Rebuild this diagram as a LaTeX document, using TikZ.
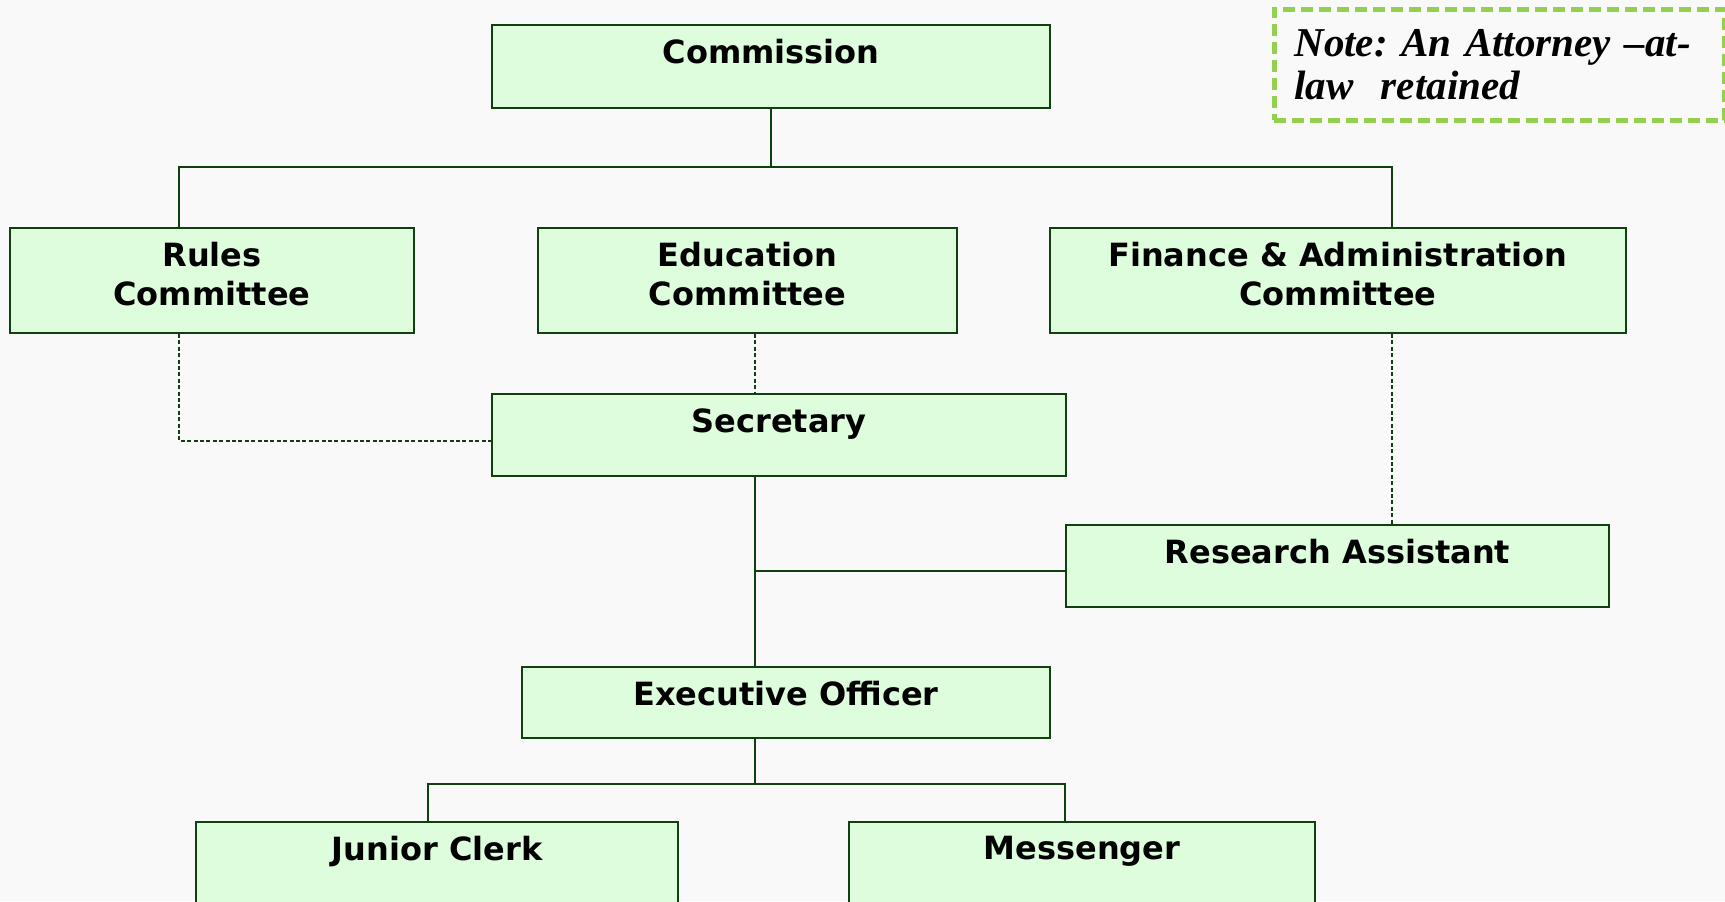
\documentclass[tikz,border=0pt]{standalone}
\usepackage{fontspec}
\usepackage{tikz}
\newfontfamily\orgfont{DejaVu Sans}
\newfontfamily\notefont{Liberation Serif}
\definecolor{boxfill}{RGB}{221,253,221}
\definecolor{boxline}{RGB}{16,64,16}
\definecolor{notegreen}{RGB}{146,208,80}
\definecolor{paper}{RGB}{249,249,249}

\begin{document}
\begin{tikzpicture}[x=0.5pt, y=-0.5pt,
  box/.style={draw=boxline, fill=boxfill, line width=1pt, anchor=north west, inner sep=0pt,
    label={[anchor=north, align=center, inner sep=7.5pt, font=\orgfont\bfseries\fontsize{16}{19.5}\selectfont]north:#1}},
  link/.style={draw=boxline, line width=1pt},
  dotlink/.style={draw=boxline, line width=0.7pt, dash pattern=on 2pt off 1.2pt},
  note/.style={draw=notegreen, line width=2.4pt, dash pattern=on 6pt off 3pt, anchor=north west,
    align=left, inner xsep=10pt, text width=205pt, font=\notefont\bfseries\itshape\fontsize{20.5}{21.5}\selectfont}]
  \useasboundingbox (0,0) rectangle (1725,901);
  \fill[paper] (0,0) rectangle (1725,901);
  \clip (0,0) rectangle (1725,901);

  \node[box={Commission}, minimum width=279pt, minimum height=41.5pt] (comm) at (491,24) {};
  \node[box={Rules\\Committee}, minimum width=202pt, minimum height=52.5pt] (rules) at (9,227) {};
  \node[box={Education\\Committee}, minimum width=209.5pt, minimum height=52.5pt] (edu) at (537,227) {};
  \node[box={Finance \& Administration\\Committee}, minimum width=288pt, minimum height=52.5pt] (fin) at (1049,227) {};
  \node[box={Secretary}, minimum width=287pt, minimum height=41pt] (sec) at (491,393) {};
  \node[box={Research Assistant}, minimum width=271.5pt, minimum height=41pt] (ra) at (1065,524) {};
  \node[box={Executive Officer}, minimum width=264pt, minimum height=35.5pt] (exec) at (521,666) {};
  \node[box={Junior Clerk}, minimum width=241pt, minimum height=100pt] (jc) at (195,821) {};
  \node[box={Messenger}, minimum width=233pt, minimum height=100pt] (mess) at (848,821) {};
  \node[note, minimum width=225pt, minimum height=55.5pt] (note) at (1272,7) {Note:\ An Attorney –at-\\law~ retained};

  \coordinate (top) at (770,167);
  \coordinate (spine) at (755,571);
  \coordinate (low) at (755,784);

  \draw[link] (comm.south) -- (comm.south |- top) -| ([xshift=85pt]rules.north west);
  \draw[link] (comm.south |- top) -| ([xshift=171.5pt]fin.north west);
  \draw[dotlink] ([xshift=85pt]rules.south west) |- ([yshift=-3pt]sec.west);
  \draw[dotlink] ([xshift=109pt]edu.south west) -- ([xshift=109pt]edu.south west |- sec.north);
  \draw[dotlink] ([xshift=171.5pt]fin.south west) -- ([xshift=171.5pt]fin.south west |- ra.north);
  \draw[link] ([xshift=132pt]sec.south west) -- ([xshift=117pt]exec.north west);
  \draw[link] (ra.west |- spine) -- (spine);
  \draw[link] ([xshift=117pt]exec.south west) -- (low);
  \draw[link] ([xshift=116.5pt]jc.north west) |- (low) -| ([xshift=108.5pt]mess.north west);
\end{tikzpicture}
\end{document}
